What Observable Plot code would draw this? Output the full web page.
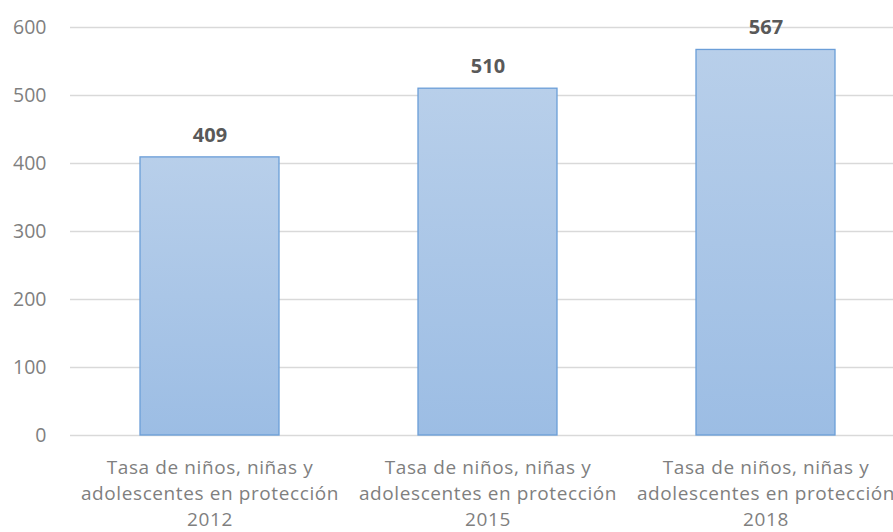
<!DOCTYPE html>
<html>
<head>
<meta charset="utf-8">
<script src="https://cdn.jsdelivr.net/npm/d3@7"></script>
<script src="https://cdn.jsdelivr.net/npm/@observablehq/plot@0.6"></script>
<style>
  html, body { margin: 0; padding: 0; overflow: hidden; background: #fff; }
  #chart svg { display: block; max-width: none !important; }
  #chart g[aria-label="x-axis tick label"] { letter-spacing: 0.6px; }
</style>
</head>
<body>
<div id="chart"></div>
<script>
const categories = [
  "Tasa de niños, niñas y\nadolescentes en protección\n2012",
  "Tasa de niños, niñas y\nadolescentes en protección\n2015",
  "Tasa de niños, niñas y\nadolescentes en protección\n2018"
];
const values = [409, 510, 567];
const yTicks = [0, 100, 200, 300, 400, 500, 600];

const data = categories.map((c, i) => ({category: c, value: values[i]}));

const gradientDefs = () => {
  const defs = d3.create("svg:defs");
  const g = defs.append("linearGradient")
    .attr("id", "barGrad").attr("x1", 0).attr("y1", 0).attr("x2", 0).attr("y2", 1);
  g.append("stop").attr("offset", "0%").attr("stop-color", "#b8cfea");
  g.append("stop").attr("offset", "100%").attr("stop-color", "#9cbde4");
  return defs.node();
};

const chart = Plot.plot({
  width: 904,
  height: 532,
  marginLeft: 70,
  marginRight: 0,
  marginTop: 27,
  marginBottom: 97,
  style: {fontFamily: "'Open Sans', sans-serif", background: "#fff", maxWidth: "none"},
  x: {domain: categories, paddingInner: 0.5, paddingOuter: 0.25, label: null},
  y: {domain: [0, 600], ticks: yTicks, label: null},
  marks: [
    gradientDefs,
    Plot.gridY(yTicks, {stroke: "#d9d9d9", strokeOpacity: 1, strokeWidth: 1.3}),
    Plot.barY(data, {x: "category", y: "value", fill: "url(#barGrad)", stroke: "#6b9ed8", strokeWidth: 1.3}),
    Plot.text(data, {x: "category", y: "value", text: d => String(d.value), dy: -22,
      fill: "#595959", fontWeight: "bold", fontSize: 20}),
    Plot.axisY(yTicks, {tickSize: 0, tickPadding: 0, dx: -24, fontSize: 19.5, color: "#7f7f7f", textAnchor: "end"}),
    Plot.axisX({tickSize: 0, tickPadding: 20, fontSize: 19, color: "#7f7f7f", lineHeight: 1.36, textOverflow: null, lineWidth: Infinity})
  ]
});
document.getElementById("chart").appendChild(chart);
</script>
</body>
</html>
